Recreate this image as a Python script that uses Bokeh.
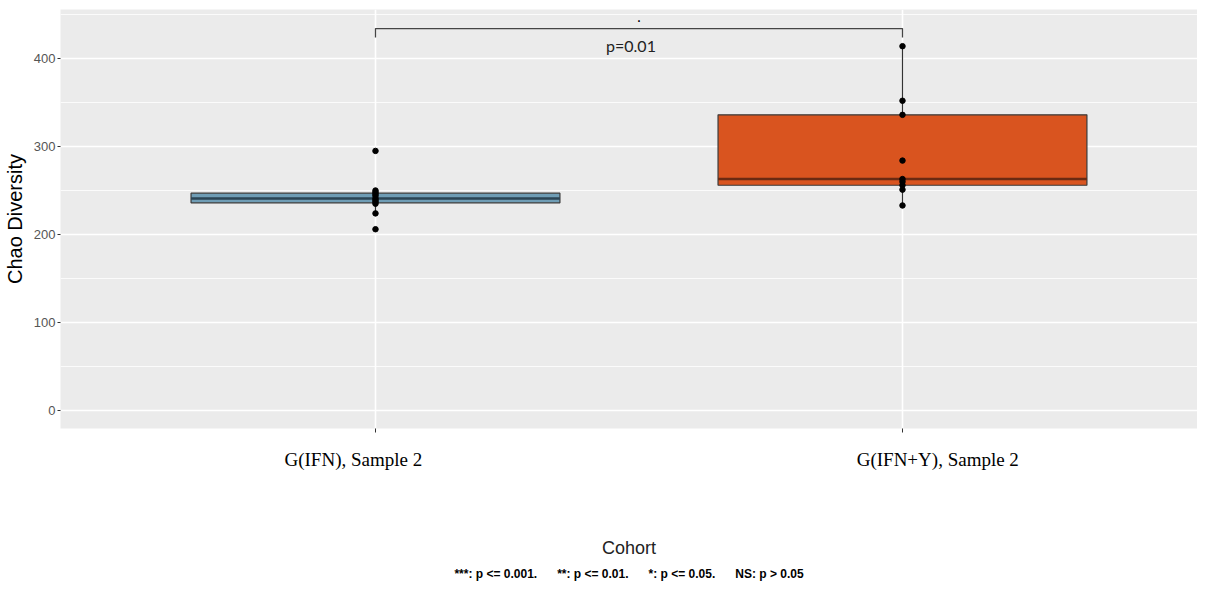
import numpy as np
from bokeh.plotting import figure
from bokeh.models import Range1d, FixedTicker, Title, LinearAxis
from bokeh.core.properties import value
from bokeh.embed import file_html
from bokeh.resources import INLINE

# ---- data ----
categories = ["G(IFN), Sample 2", "G(IFN+Y), Sample 2"]
cat_pos = [1, 2]
label_pos = [0.958, 2.067]          # where the category texts sit (slightly off the ticks, as in the reference)
group1 = [295, 250, 248, 246, 244, 241, 239, 237, 235, 224, 206]
group2 = [414, 352, 336, 284, 263, 260, 256, 251, 233]
fills = ["#6F9DB5", "#D9541F"]
medians_col = ["#2B4555", "#6A2A12"]
y_ticks = [0, 100, 200, 300, 400]
y_minor = [50, 150, 250, 350, 450]
p_label = "p=0.01"
sig_label = "."
bracket_top = 434
bracket_tick = 424
NB = "\u00a0"
caption = ("***: p <= 0.001." + NB * 6 + "**: p <= 0.01." + NB * 6 +
           "*: p <= 0.05." + NB * 6 + "NS: p > 0.05").replace(" ", NB)

p = figure(width=1197, height=586, output_backend="svg", toolbar_location=None,
           x_range=Range1d(0.4023, 2.5598), y_range=Range1d(-20.45, 455.7),
           min_border_left=60, min_border_right=0, min_border_top=9, min_border_bottom=158)
p.background_fill_color = "#EBEBEB"
p.border_fill_color = "white"
p.outline_line_color = None

# grids
p.ygrid.ticker = FixedTicker(ticks=y_ticks, minor_ticks=y_minor)
p.ygrid.grid_line_color = "white"
p.ygrid.grid_line_width = 1.6
p.ygrid.minor_grid_line_color = "white"
p.ygrid.minor_grid_line_width = 0.8
p.xgrid.ticker = FixedTicker(ticks=cat_pos)
p.xgrid.grid_line_color = "white"
p.xgrid.grid_line_width = 1.6

# y axis
p.yaxis.ticker = FixedTicker(ticks=y_ticks)
p.yaxis.axis_line_color = None
p.yaxis.major_tick_line_color = "#333333"
p.yaxis.major_tick_out = 3
p.yaxis.major_tick_in = 0
p.yaxis.minor_tick_line_color = None
p.yaxis.major_label_text_font = "Liberation Sans"
p.yaxis.major_label_text_font_size = "13px"
p.yaxis.major_label_text_color = "#555555"
p.yaxis.major_label_standoff = 2
p.yaxis.axis_label = "Chao Diversity"
p.yaxis.axis_label_text_font = "Liberation Sans"
p.yaxis.axis_label_text_font_size = "20px"
p.yaxis.axis_label_text_font_style = "normal"
p.yaxis.axis_label_text_color = "black"
p.yaxis.axis_label_standoff = 5

# x axis: tick marks only
p.xaxis.ticker = FixedTicker(ticks=cat_pos)
p.xaxis.major_label_overrides = {c: "" for c in cat_pos}
p.xaxis.axis_line_color = None
p.xaxis.major_tick_line_color = "#333333"
p.xaxis.major_tick_out = 4
p.xaxis.major_tick_in = 0
p.xaxis.minor_tick_line_color = None
p.xaxis.major_label_standoff = 0
p.xaxis.major_label_text_font_size = "1px"

# x axis: category texts and title
lab_axis = LinearAxis(ticker=FixedTicker(ticks=label_pos),
                      major_label_overrides={lp: c for lp, c in zip(label_pos, categories)})
lab_axis.axis_line_color = None
lab_axis.major_tick_line_color = None
lab_axis.minor_tick_line_color = None
lab_axis.major_tick_out = 0
lab_axis.major_tick_in = 0
lab_axis.major_label_text_font = "Liberation Serif"
lab_axis.major_label_text_font_size = "19px"
lab_axis.major_label_text_color = "black"
lab_axis.major_label_standoff = 16
lab_axis.axis_label = "Cohort"
lab_axis.axis_label_text_font = "Liberation Sans"
lab_axis.axis_label_text_font_size = "18px"
lab_axis.axis_label_text_font_style = "normal"
lab_axis.axis_label_text_color = "#222222"
lab_axis.axis_label_standoff = 65
p.add_layout(lab_axis, "below")

# boxplots
groups = [group1, group2]
for x, g, fc, mc in zip(cat_pos, groups, fills, medians_col):
    arr = np.array(g, dtype=float)
    q1, med, q3 = np.percentile(arr, [25, 50, 75])
    iqr = q3 - q1
    lo = arr[arr >= q1 - 1.5 * iqr].min()
    hi = arr[arr <= q3 + 1.5 * iqr].max()
    p.segment(x0=[x, x], y0=[q3, q1], x1=[x, x], y1=[hi, lo], line_color="#333333", line_width=1.2)
    p.vbar(x=[x], width=0.7, bottom=[q1], top=[q3], fill_color=fc, line_color="#3a3a3a", line_width=1.2)
    p.segment(x0=[x - 0.35], y0=[med], x1=[x + 0.35], y1=[med], line_color=mc, line_width=2.5)

# points
xs, ys = [], []
for x, g in zip(cat_pos, groups):
    xs += [x] * len(g)
    ys += g
p.scatter(x=xs, y=ys, size=5.5, color="black")

# significance bracket
p.line(x=[cat_pos[0], cat_pos[0], cat_pos[1], cat_pos[1]],
       y=[bracket_tick, bracket_top, bracket_top, bracket_tick], line_color="#444444", line_width=1.3)
mid = (cat_pos[0] + cat_pos[1]) / 2
p.text(x=[mid], y=[bracket_top - 19], text=[p_label], text_font=value("Lato"), text_font_size="16px",
       text_align="center", text_baseline="middle", text_color="#222222", x_offset=-8)
p.text(x=[mid], y=[bracket_top + 14], text=[sig_label], text_font=value("Liberation Sans"), text_font_size="16px",
       text_align="center", text_baseline="middle", text_color="black")

cap = Title(text=caption, align="center", text_font="Liberation Sans", text_font_size="12px",
            text_font_style="bold", text_color="black", standoff=9)
p.add_layout(cap, "below")

open("out.html", "w").write(file_html(p, INLINE))
